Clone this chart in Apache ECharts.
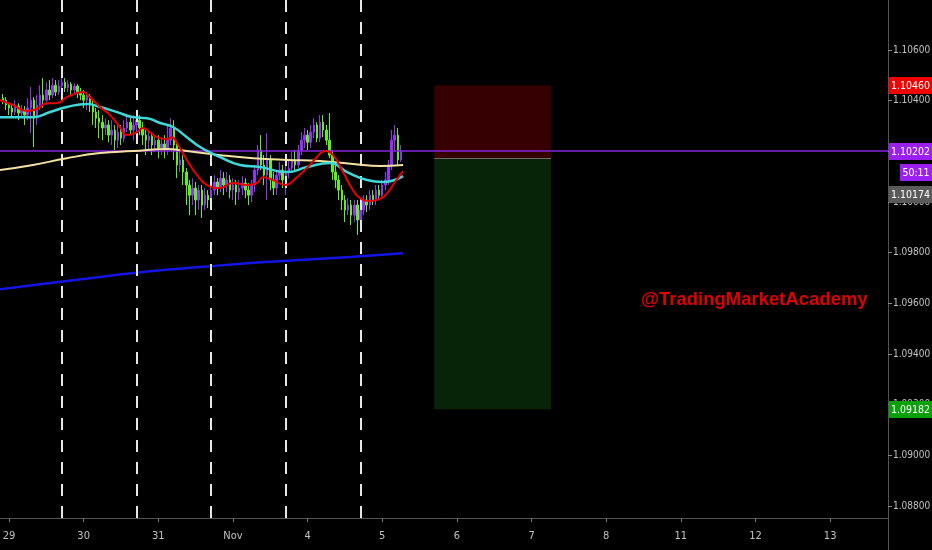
<!DOCTYPE html>
<html><head><meta charset="utf-8">
<script src="https://cdn.jsdelivr.net/npm/echarts/dist/echarts.min.js"></script>
<style>html,body{margin:0;padding:0;background:#000;}#c{width:932px;height:550px;}</style>
</head><body><div id="c"></div>
<script>
// ---- data ----
const dayLabels = ['29','30','31','Nov','4','5','6','7','8','11','12','13'];
const priceTicks = [1.088,1.090,1.092,1.094,1.096,1.098,1.100,1.102,1.104,1.106];
const firstCandleHour = -2; // hourly candles, hour 0 = day "29"
// [open, close, low, high]
const candles = [
[1.10410,1.10402,1.10386,1.10426],[1.10402,1.10383,1.10363,1.10414],[1.10383,1.10371,1.10343,1.10394],
[1.10371,1.10355,1.10331,1.10386],[1.10355,1.10379,1.10343,1.10402],[1.10379,1.10351,1.10323,1.10390],
[1.10351,1.10363,1.10331,1.10383],[1.10363,1.10343,1.10304,1.10379],[1.10343,1.10371,1.10323,1.10410],
[1.10371,1.10402,1.10272,1.10454],[1.10402,1.10331,1.10217,1.10414],[1.10331,1.10383,1.10304,1.10422],
[1.10383,1.10422,1.10363,1.10461],[1.10422,1.10402,1.10371,1.10489],[1.10402,1.10442,1.10383,1.10473],
[1.10442,1.10422,1.10402,1.10481],[1.10422,1.10461,1.10410,1.10489],[1.10461,1.10434,1.10418,1.10481],
[1.10434,1.10458,1.10422,1.10481],[1.10458,1.10473,1.10442,1.10497],[1.10473,1.10450,1.10434,1.10489],
[1.10450,1.10465,1.10434,1.10481],[1.10465,1.10442,1.10422,1.10473],[1.10442,1.10458,1.10426,1.10469],
[1.10458,1.10434,1.10410,1.10465],[1.10434,1.10422,1.10402,1.10450],[1.10422,1.10402,1.10371,1.10442],
[1.10402,1.10418,1.10363,1.10434],[1.10418,1.10383,1.10355,1.10426],[1.10383,1.10355,1.10304,1.10402],
[1.10355,1.10331,1.10292,1.10371],[1.10331,1.10315,1.10252,1.10363],[1.10315,1.10292,1.10244,1.10343],
[1.10292,1.10304,1.10264,1.10331],[1.10304,1.10264,1.10236,1.10323],[1.10264,1.10284,1.10225,1.10323],
[1.10284,1.10244,1.10205,1.10304],[1.10244,1.10276,1.10213,1.10304],[1.10276,1.10252,1.10225,1.10304],
[1.10252,1.10292,1.10236,1.10323],[1.10292,1.10315,1.10276,1.10343],[1.10315,1.10284,1.10264,1.10331],
[1.10284,1.10304,1.10244,1.10343],[1.10304,1.10323,1.10276,1.10355],[1.10323,1.10292,1.10264,1.10343],
[1.10292,1.10264,1.10225,1.10315],[1.10264,1.10244,1.10185,1.10284],[1.10244,1.10260,1.10205,1.10284],
[1.10260,1.10225,1.10185,1.10276],[1.10225,1.10244,1.10197,1.10264],[1.10244,1.10213,1.10173,1.10264],
[1.10213,1.10229,1.10185,1.10252],[1.10229,1.10205,1.10173,1.10264],[1.10205,1.10244,1.10185,1.10304],
[1.10244,1.10292,1.10225,1.10331],[1.10292,1.10225,1.10166,1.10323],[1.10225,1.10146,1.10094,1.10244],
[1.10146,1.10166,1.10118,1.10205],[1.10166,1.10118,1.10067,1.10185],[1.10118,1.10067,1.09988,1.10134],
[1.10067,1.10027,1.09948,1.10087],[1.10027,1.10055,1.09988,1.10094],[1.10055,1.10008,1.09948,1.10079],
[1.10008,1.10047,1.09968,1.10067],[1.10047,1.09988,1.09937,1.10067],[1.09988,1.10027,1.09968,1.10055],
[1.10027,1.10008,1.09976,1.10047],[1.10008,1.10047,1.09988,1.10067],[1.10047,1.10079,1.10027,1.10106],
[1.10079,1.10055,1.10027,1.10094],[1.10055,1.10094,1.10039,1.10126],[1.10094,1.10067,1.10027,1.10118],
[1.10067,1.10087,1.10039,1.10118],[1.10087,1.10047,1.10015,1.10106],[1.10047,1.10067,1.10008,1.10094],
[1.10067,1.10039,1.09988,1.10087],[1.10039,1.10055,1.10008,1.10087],[1.10055,1.10075,1.10027,1.10102],
[1.10075,1.10047,1.10015,1.10094],[1.10047,1.10027,1.09988,1.10075],[1.10027,1.10067,1.10000,1.10087],
[1.10067,1.10126,1.10039,1.10146],[1.10126,1.10205,1.10106,1.10225],[1.10205,1.10146,1.10126,1.10264],
[1.10146,1.10106,1.10067,1.10185],[1.10106,1.10166,1.10008,1.10272],[1.10166,1.10087,1.10047,1.10185],
[1.10087,1.10055,1.10027,1.10118],[1.10055,1.10106,1.10027,1.10126],[1.10106,1.10126,1.10087,1.10158],
[1.10126,1.10087,1.10055,1.10146],[1.10087,1.10118,1.10027,1.10146],[1.10118,1.10134,1.10094,1.10166],
[1.10134,1.10166,1.10118,1.10197],[1.10166,1.10146,1.10126,1.10205],[1.10146,1.10205,1.10134,1.10225],
[1.10205,1.10244,1.10185,1.10276],[1.10244,1.10264,1.10213,1.10292],[1.10264,1.10236,1.10205,1.10284],
[1.10236,1.10276,1.10213,1.10304],[1.10276,1.10304,1.10252,1.10331],[1.10304,1.10252,1.10236,1.10315],
[1.10252,1.10315,1.10236,1.10343],[1.10315,1.10284,1.10256,1.10343],[1.10284,1.10244,1.10225,1.10304],
[1.10244,1.10185,1.10173,1.10351],[1.10185,1.10118,1.10087,1.10205],[1.10118,1.10087,1.10055,1.10146],
[1.10087,1.10047,1.10008,1.10106],[1.10047,1.10008,1.09968,1.10067],[1.10008,1.09968,1.09921,1.10027],
[1.09968,1.09988,1.09948,1.10015],[1.09988,1.09948,1.09909,1.10008],[1.09948,1.09988,1.09921,1.10008],
[1.09988,1.09929,1.09870,1.10008],[1.09929,1.09968,1.09897,1.09988],[1.09968,1.10008,1.09948,1.10027],
[1.10008,1.09988,1.09960,1.10027],[1.09988,1.10027,1.09968,1.10047],[1.10027,1.10008,1.09988,1.10047],
[1.10008,1.10047,1.09988,1.10067],[1.10047,1.10027,1.10008,1.10067],[1.10027,1.10067,1.10015,1.10087],
[1.10067,1.10087,1.10047,1.10118],[1.10087,1.10146,1.10067,1.10166],[1.10146,1.10244,1.10126,1.10284],
[1.10244,1.10264,1.10205,1.10304],[1.10264,1.10166,1.10146,1.10292],[1.10166,1.10202,1.10158,1.10225]
];
// moving averages: [hour, price]
const maRed = [[-2.9,1.10402],[1.3,1.10383],[5.8,1.10359],[9.0,1.10367],[12.2,1.10390],[15.4,1.10390],[18.6,1.10414],[21.9,1.10430],[23.8,1.10434],[26.0,1.10414],[29.3,1.10375],[32.5,1.10343],[35.7,1.10296],[37.9,1.10264],[41.2,1.10276],[43.1,1.10292],[45.3,1.10276],[47.6,1.10256],[50.8,1.10248],[52.4,1.10256],[54.0,1.10233],[57.2,1.10166],[60.5,1.10106],[63.7,1.10067],[67.9,1.10055],[72.0,1.10075],[76.5,1.10067],[79.7,1.10075],[81.7,1.10098],[84.9,1.10087],[88.8,1.10067],[92.6,1.10098],[95.8,1.10134],[99.0,1.10177],[101.6,1.10201],[104.2,1.10185],[107.4,1.10118],[110.6,1.10047],[112.9,1.10015],[116.1,1.10004],[119.3,1.10012],[121.9,1.10039],[124.1,1.10079],[126.7,1.10122]];
const maCyan = [[-2.9,1.10335],[7.7,1.10335],[13.2,1.10355],[18.6,1.10375],[25.1,1.10387],[29.3,1.10375],[34.7,1.10355],[39.9,1.10335],[44.4,1.10331],[48.6,1.10312],[52.7,1.10296],[57.2,1.10256],[61.4,1.10217],[67.9,1.10177],[74.3,1.10146],[80.7,1.10138],[89.4,1.10118],[95.8,1.10138],[103.2,1.10154],[108.7,1.10118],[115.1,1.10087],[120.3,1.10079],[126.7,1.10102]];
const maBeige = [[-2.9,1.10126],[7.7,1.10146],[18.6,1.10173],[29.3,1.10193],[39.9,1.10201],[50.8,1.10209],[57.2,1.10201],[67.9,1.10185],[78.5,1.10173],[89.4,1.10166],[100,1.10162],[110.6,1.10150],[119.3,1.10142],[126.7,1.10146]];
const maBlue = [[-2.9,1.09656],[13.2,1.09680],[29.3,1.09704],[45.3,1.09727],[61.4,1.09743],[77.5,1.09759],[93.6,1.09771],[109.6,1.09783],[126.7,1.09798]];
const sessionHours = [17,41,65,89,113];
const currentPrice = 1.10202;
const countdown = '50:11';
const entryPrice = 1.10174;
const stopPrice = 1.10460;
const targetPrice = 1.09182;
const positionHours = [136.7,174.3];
const watermark = '@TradingMarketAcademy';

// ---- chart ----
const FONT = "'Liberation Sans Narrow','DejaVu Sans Condensed','Roboto',sans-serif";
const chart = echarts.init(document.getElementById('c'));
const candleData = candles.map((c, i) => [firstCandleHour + i, c[0], c[1], c[2], c[3]]);
const dayValues = dayLabels.map((_, i) => i * 24);

chart.setOption({
  backgroundColor: '#000',
  animation: false,
  grid: { left: 0, right: 44, top: 0, bottom: 32, containLabel: false, outerBoundsMode: 'none' },
  xAxis: {
    type: 'value', min: -2.894, max: 282.6,
    axisLine: { show: true, onZero: false, lineStyle: { color: '#555', width: 1 } },
    axisTick: { show: true, customValues: dayValues, length: 4, lineStyle: { color: '#777' } },
    axisLabel: { customValues: dayValues, color: '#c0c0c0', fontSize: 11, fontFamily: FONT, margin: 13,
      formatter: v => dayLabels[Math.round(v / 24)] },
    splitLine: { show: false }
  },
  yAxis: {
    type: 'value', position: 'right', min: 1.087526, max: 1.107974,
    axisLine: { show: true, onZero: false, lineStyle: { color: '#555', width: 1 } },
    axisTick: { show: true, customValues: priceTicks, length: 4, lineStyle: { color: '#888' } },
    axisLabel: { customValues: priceTicks, color: '#c0c0c0', fontSize: 10, fontFamily: FONT, margin: 5,
      formatter: v => v.toFixed(5) },
    splitLine: { show: false }
  },
  series: [
    {
      type: 'line', data: maBlue, symbol: 'none', smooth: true, z: 3,
      lineStyle: { color: '#1414e6', width: 2.5 },
      markArea: {
        silent: true,
        data: [
          [{ xAxis: positionHours[0], yAxis: stopPrice, itemStyle: { color: '#360002' } }, { xAxis: positionHours[1], yAxis: entryPrice }],
          [{ xAxis: positionHours[0], yAxis: entryPrice, itemStyle: { color: '#082408' } }, { xAxis: positionHours[1], yAxis: targetPrice }]
        ]
      },
      markLine: {
        silent: true, symbol: ['none', 'none'], label: { show: false }, animation: false, precision: 5,
        data: sessionHours.map(h => ({ xAxis: h, lineStyle: { color: '#e6e6e6', width: 2, type: [12, 10] } }))
          .concat([
            { yAxis: currentPrice, lineStyle: { color: '#8424e0', width: 1.5, type: 'solid' } },
            [{ coord: [positionHours[0], entryPrice], lineStyle: { color: '#6a6a6a', width: 1, type: 'solid' } }, { coord: [positionHours[1], entryPrice] }]
          ])
      }
    },
    {
      type: 'candlestick', data: candleData, encode: { x: 0, y: [1, 2, 3, 4] },
      barWidth: 2, z: 4,
      itemStyle: { color: '#9530f5', color0: '#5cf21c', borderColor: '#9530f5', borderColor0: '#5cf21c', borderWidth: 1 }
    },
    { type: 'line', data: maBeige, symbol: 'none', smooth: true, z: 5, lineStyle: { color: '#f4e2a2', width: 2 } },
    { type: 'line', data: maCyan, symbol: 'none', smooth: true, z: 6, lineStyle: { color: '#3fd8d8', width: 2.5 } },
    { type: 'line', data: maRed, symbol: 'none', smooth: true, z: 7, lineStyle: { color: '#e60000', width: 2 } }
  ]
});

function yPix(p) { return chart.convertToPixel({ yAxisIndex: 0 }, p); }
function tag(cy, text, bg, x0) {
  x0 = x0 || 889;
  return [
    { type: 'rect', z: 100, shape: { x: x0, y: Math.round(cy) - 8, width: 932 - x0, height: 17 }, style: { fill: bg } },
    { type: 'text', z: 101, style: { text: text, x: (x0 + 932) / 2, y: Math.round(cy) + 1, fill: '#fff', font: '10.5px ' + FONT, align: 'center', verticalAlign: 'middle' } }
  ];
}
const pc = yPix(currentPrice);
const g = [].concat(
  tag(yPix(stopPrice), stopPrice.toFixed(5), '#f00000'),
  tag(pc, currentPrice.toFixed(5), '#9a1ff0'),
  tag(pc + 21.5, countdown, '#9a1ff0', 900),
  tag(pc + 43, entryPrice.toFixed(5), '#5a5a5a'),
  tag(yPix(targetPrice), targetPrice.toFixed(5), '#0aa00a'),
  [
    { type: 'line', z: 50, shape: { x1: 888.5, y1: 518, x2: 888.5, y2: 550 }, style: { stroke: '#555', lineWidth: 1 } },
    { type: 'text', z: 60, style: { text: watermark, x: 641, y: 300, fill: '#e00000', font: 'bold 18.5px ' + "'Liberation Sans','Roboto',sans-serif", align: 'left', verticalAlign: 'middle' } }
  ]
);
chart.setOption({ graphic: g });
</script>
</body></html>
